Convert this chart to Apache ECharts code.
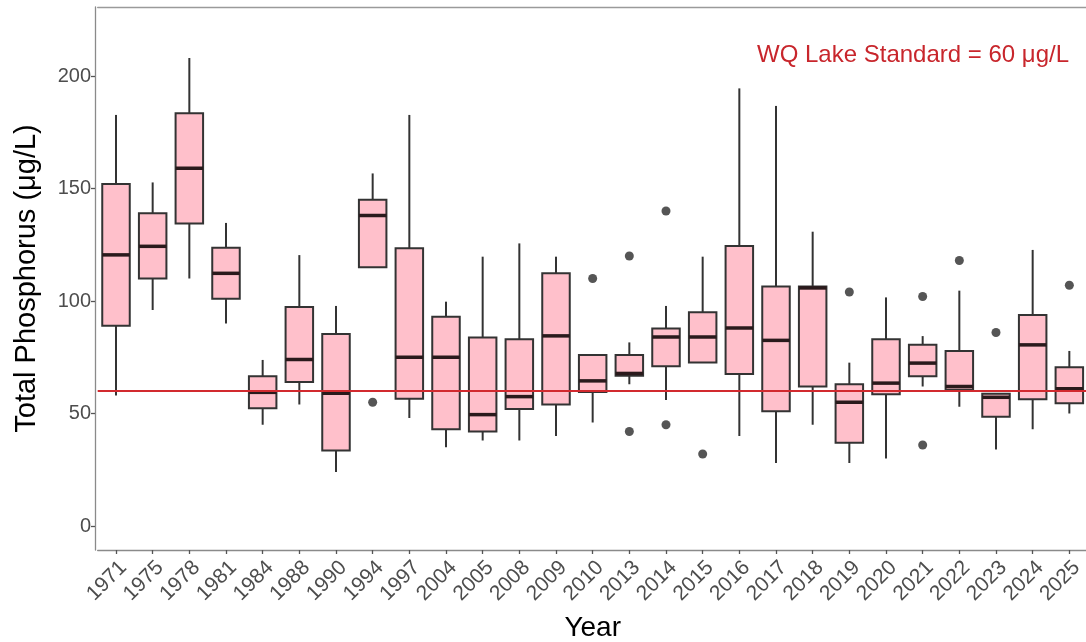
<!DOCTYPE html>
<html>
<head>
<meta charset="utf-8">
<script src="https://cdn.jsdelivr.net/npm/echarts@6/dist/echarts.min.js"></script>
<style>html,body{margin:0;padding:0;background:#fff;}#c{width:1086px;height:642px;}</style>
</head>
<body>
<div id="c"></div>
<script>
const years = ['1971','1975','1978','1981','1984','1988','1990','1994','1997','2004','2005','2008','2009','2010','2013','2014','2015','2016','2017','2018','2019','2020','2021','2022','2023','2024','2025'];
const whiskerLow  = [58, 96, 110, 90, 45, 54, 24, 115, 48, 35, 38, 38, 40, 46, 63, 56, 72.5, 40, 28, 45, 28, 30, 62, 53, 34, 43, 50];
const q1          = [89, 110, 134.5, 101, 52.3, 64, 33.5, 115, 56.5, 43, 42, 52, 54, 59.5, 66.8, 71, 72.7, 67.5, 51, 62, 37, 58.5, 66.5, 60.5, 48.5, 56.3, 54.5];
const median      = [120.5, 124.3, 159, 112.3, 59.4, 74, 59, 138, 75, 75, 49.5, 57.5, 84.5, 64.5, 67.8, 84, 84, 88, 82.5, 105.8, 55, 63.5, 72.4, 62, 57.2, 80.5, 61];
const q3          = [152, 139, 183.5, 123.7, 66.5, 97.3, 85.3, 145, 123.5, 93, 83.8, 83, 112.3, 76, 76, 87.8, 95, 124.5, 106.4, 106.4, 63, 83, 80.5, 77.8, 58.8, 93.8, 70.5];
const whiskerHigh = [182.7, 152.7, 208, 134.7, 73.8, 120.4, 97.8, 156.7, 182.7, 99.7, 119.7, 125.6, 119.7, 76, 81.6, 97.8, 119.7, 194.5, 186.7, 130.8, 72.6, 101.6, 84.4, 104.6, 58.8, 122.7, 77.8];
const outlierYears  = ['1994','2010','2013','2013','2014','2014','2015','2019','2021','2021','2022','2023','2025'];
const outlierValues = [55, 110, 120, 42, 140, 45, 32, 104, 102, 36, 118, 86, 107];
const yTicks = [0, 50, 100, 150, 200];
const standardValue = 60;
const standardLabel = 'WQ Lake Standard = 60 μg/L';

const boxData = years.map((y, i) => [i, whiskerLow[i], q1[i], median[i], q3[i], whiskerHigh[i]]);
const outlierData = outlierYears.map((y, i) => [y, outlierValues[i]]);

const chart = echarts.init(document.getElementById('c'), null, {renderer: 'canvas'});
const dark = '#333333';
const red = '#d22a2f';

chart.setOption({
  animation: false,
  backgroundColor: '#ffffff',
  textStyle: {fontFamily: 'Liberation Sans, Arial, sans-serif'},
  grid: {left: 97.67, right: -1.67, top: 7, bottom: 92, containLabel: false, outerBoundsMode: 'none'},
  xAxis: [{
    type: 'category',
    data: years,
    boundaryGap: true,
    axisLine: {show: true, onZero: false, lineStyle: {color: '#8a8a8a', width: 1.3}},
    axisTick: {show: true, alignWithLabel: true, length: 4, lineStyle: {color: '#555', width: 1.3}},
    axisLabel: {interval: 0, rotate: 45, fontSize: 21, color: '#4d4d4d', margin: 7, align: 'right', verticalAlign: 'top'},
    splitLine: {show: false},
    name: 'Year',
    nameLocation: 'middle',
    nameGap: 64,
    nameTextStyle: {fontSize: 28, color: '#000'}
  }, {
    type: 'category',
    data: years,
    position: 'top',
    axisLine: {show: true, onZero: false, lineStyle: {color: '#9a9a9a', width: 1.3}},
    axisTick: {show: false},
    axisLabel: {show: false},
    splitLine: {show: false}
  }],
  yAxis: {
    type: 'value',
    min: -10.67,
    max: 230.67,
    offset: 2.67,
    axisLine: {show: true, lineStyle: {color: '#8a8a8a', width: 1.3}},
    axisTick: {show: true, length: 4, customValues: yTicks, lineStyle: {color: '#555', width: 1.3}},
    axisLabel: {fontSize: 20, color: '#4d4d4d', margin: 4, customValues: yTicks},
    splitLine: {show: false},
    name: 'Total Phosphorus (μg/L)',
    nameLocation: 'middle',
    nameGap: 54,
    nameTextStyle: {fontSize: 29, color: '#000'}
  },
  series: [{
    type: 'custom',
    data: boxData,
    encode: {x: 0, y: [1, 2, 3, 4, 5]},
    z: 2,
    renderItem: function (params, api) {
      const x = api.value(0);
      const pLo = api.coord([x, api.value(1)]);
      const pQ1 = api.coord([x, api.value(2)]);
      const pMed = api.coord([x, api.value(3)]);
      const pQ3 = api.coord([x, api.value(4)]);
      const pHi = api.coord([x, api.value(5)]);
      const band = api.size([1, 0])[0];
      const hw = band * 0.75 / 2;
      const cx = pMed[0];
      return {
        type: 'group',
        children: [
          {type: 'line', shape: {x1: cx, y1: pQ3[1], x2: cx, y2: pHi[1]}, style: {stroke: dark, lineWidth: 2}},
          {type: 'line', shape: {x1: cx, y1: pQ1[1], x2: cx, y2: pLo[1]}, style: {stroke: dark, lineWidth: 2}},
          {type: 'rect', shape: {x: cx - hw, y: pQ3[1], width: hw * 2, height: pQ1[1] - pQ3[1]}, style: {fill: '#ffc0cb', stroke: dark, lineWidth: 2}},
          {type: 'line', shape: {x1: cx - hw, y1: pMed[1], x2: cx + hw, y2: pMed[1]}, style: {stroke: '#2a1a1c', lineWidth: 3.5}}
        ]
      };
    }
  }, {
    type: 'scatter',
    data: outlierData,
    symbol: 'circle',
    symbolSize: 9,
    itemStyle: {color: '#2a2a2a'},
    z: 3,
    markLine: {
      silent: true,
      symbol: ['none', 'none'],
      label: {show: false},
      lineStyle: {color: red, width: 2, type: 'solid'},
      data: [{yAxis: standardValue}],
      z: 5
    }
  }],
  graphic: [{
    type: 'text',
    left: 757,
    top: 43,
    z: 10,
    style: {text: standardLabel, fontSize: 24, fill: '#c8262c', fontFamily: 'Liberation Sans, Arial, sans-serif'}
  }]
});
</script>
</body>
</html>
